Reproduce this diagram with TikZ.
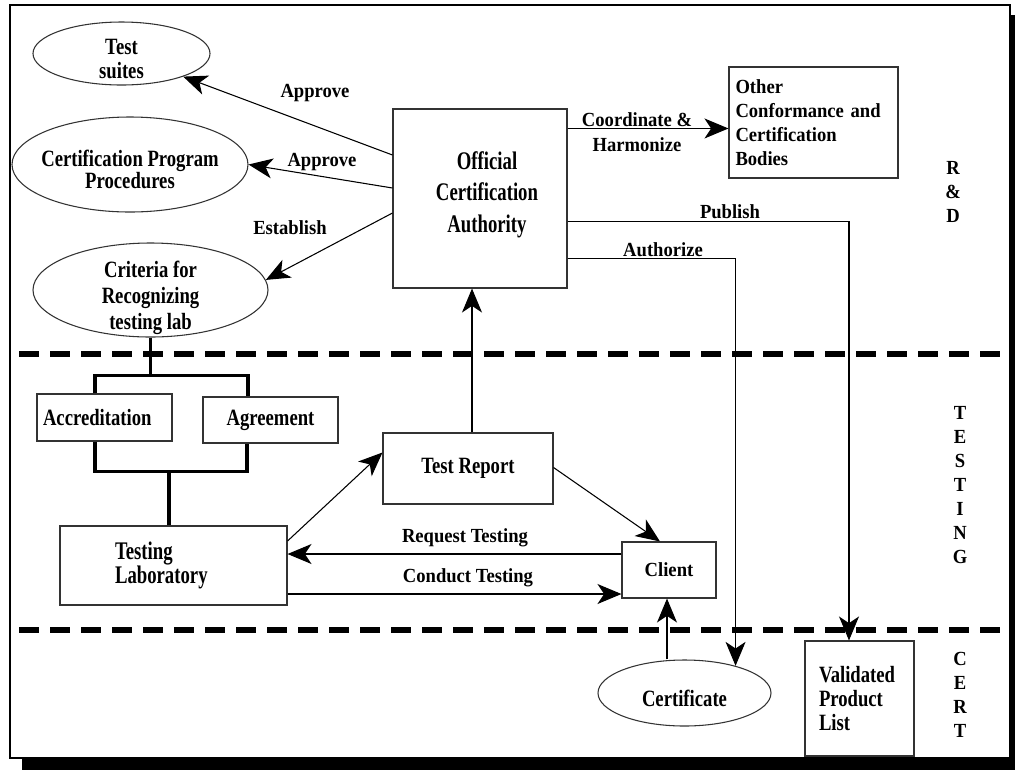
\documentclass[tikz,border=0pt]{standalone}
\usepackage{fontspec}
\setmainfont{Liberation Serif}
\newfontfamily\fA[FakeStretch=0.8]{Liberation Serif}
\newfontfamily\fB[FakeStretch=0.74]{Liberation Serif}
\newfontfamily\fL[FakeStretch=0.93]{Liberation Serif}
\usetikzlibrary{arrows.meta,shapes.geometric,calc}
\newcommand{\ztab}[1]{\makebox[0pt]{\smash{\raisebox{-0.6em}{\begin{tabular}{@{}c@{}}#1\end{tabular}}}}}
\newcommand{\ztabs}[3]{\makebox[0pt]{\hspace*{#1}\smash{\raisebox{#2}{\begin{tabular}{@{}c@{}}#3\end{tabular}}}}}
\begin{document}
\begin{tikzpicture}[x=0.75pt,y=-0.75pt,
  every node/.style={font=\fL\bfseries\fontsize{15}{18}\selectfont},
  fontA/.style={font=\fA\bfseries\fontsize{17.5}{18}\selectfont},
  fontB/.style={font=\fB\bfseries\fontsize{19}{17.25}\selectfont},
  box/.style={draw=black!80,line width=0.8pt,rectangle,inner sep=0pt},
  oval/.style={draw=black!80,line width=0.8pt,ellipse,inner sep=0pt,fontA},
  lbl/.style={inner sep=0pt,align=center},
  conn/.style={line width=0.8pt},
  arr/.style={conn,-{Stealth[length=18pt,width=15pt,inset=5pt]}},
  bar/.style={line width=2.4pt},
  divider/.style={line width=4.5pt,dash pattern=on 15pt off 8.25pt}]
\useasboundingbox (0,0) rectangle (1015,769);
% frame with shadow
\fill[black] (22,15) rectangle (1030,780);
\draw[line width=1.5pt,fill=white] (10,5) rectangle (1010,758);
% zone dividers
\draw[divider] (19,354) -- (1005,354);
\draw[divider] (19,630) -- (1005,630);

% boxes
\node[box,fontB,minimum width=130.5pt,minimum height=134.25pt] (oca) at (480,198.5) {\ztabs{10.5pt}{-1.9pt}{Official\\[5.25pt]Certification\\[5.25pt]Authority}};
\node[box,minimum height=83.25pt,text width=117pt,inner xsep=4.875pt,align=left] (oth) at (813.5,122.5) {Other\\Conformance and\\Certification\\Bodies};
\node[box,fontA,minimum width=127.5pt,minimum height=53.25pt] (tr) at (468,468.5) {Test Report};
\node[box,minimum width=70.5pt,minimum height=42pt] (cl) at (669,570) {Client};
\node[box,fontB,minimum height=59.25pt,text width=87.75pt,inner xsep=41.25pt,align=left] (lab) at (173.5,565.5) {Testing\\Laboratory};
\node[box,fontA,minimum height=35.25pt,text width=92.25pt,inner xsep=4.5pt,align=left] (acc) at (104.5,417.5) {Accreditation};
\node[box,fontA,minimum width=101.25pt,minimum height=34.5pt] (agr) at (270.5,420) {Agreement};
\node[box,fontA,minimum height=86.25pt,text width=60.75pt,inner xsep=10.5pt,align=left] (vpl) at (859.5,698.5) {Validated\\Product\\List};

% ellipses
\node[oval,minimum width=132.75pt,minimum height=47.25pt] (ts) at (121.5,53.5) {\ztab{Test\\suites}};
\node[oval,minimum width=177pt,minimum height=71.25pt] (cp) at (130,164.5) {\ztab{Certification Program\\[-1.5pt]Procedures}};
\node[oval,minimum width=176.25pt,minimum height=70.5pt] (cr) at (150.5,290) {\ztab{Criteria for\\[1.5pt]Recognizing\\[1.5pt]testing lab}};
\node[oval,minimum width=129.75pt,minimum height=49.5pt] (cert) at (684.5,693) {\ztab{Certificate}};

% labels
\node[lbl] (lAp1) at (315,93) {Approve};
\node[lbl] (lAp2) at (322,162) {Approve};
\node[lbl] (lEst) at (290,228) {Establish};
\node[lbl] (lCo) at (637,132) {Coordinate \&\\[0.75pt]Harmonize};
\node[lbl] (lPub) at (730,212) {Publish};
\node[lbl] (lAut) at (663,250) {Authorize};
\node[lbl] (lReq) at (465,538) {Request Testing};
\node[lbl] (lCon) at (468,578) {Conduct Testing};
\node[lbl] (zRD) at (953,192) {R\\\&\\D};
\node[lbl] (zT) at (960,485.5) {T\\E\\S\\T\\I\\N\\G};
\node[lbl] (zC) at (960,694.5) {C\\E\\R\\T};

% connectors
\draw[arr] ($(oca.west)+(0,-43.5)$) -- (ts);
\draw[arr] ($(oca.west)+(0,-10.5)$) -- (cp.east);
\draw[arr] ($(oca.west)+(0,14.5)$) -- (cr.5);
\draw[arr] ($(oca.north east)+(0,20)$) -- ($(oth.north west)+(0,62)$);
\draw[arr] ($(oca.north east)+(0,113)$) -| ($(vpl.north)+(-10.5,0)$);
\draw[arr] ($(oca.north east)+(0,150)$) -| (cert.28);
\coordinate (p1) at ($(tr.north)+(4,0)$);
\draw[arr] (p1) -- (p1 |- oca.south);
\draw[arr] ($(lab.east)+(0,-24.5)$) -- ($(tr.west)+(0,-16)$);
\draw[arr] ($(tr.east)+(0,-1)$) -- ($(cl.north)+(-9,0)$);
\coordinate (p2) at ($(cl.west)+(0,-16)$);
\draw[arr] (p2) -- (p2 -| lab.east);
\coordinate (p3) at ($(cl.west)+(0,24)$);
\draw[arr] (p3 -| lab.east) -- (p3);
\coordinate (p4) at ($(cl.south)+(-2,0)$);
\draw[arr] (p4 |- cert.north) -- (p4);

% bracket
\coordinate (j1) at ($(cr.south)+(0,38)$);
\draw[bar] ($(acc.north)+(-9.5,0)$) |- (j1) -| ($(agr.north)+(-22.5,0)$);
\draw[bar] (cr.south) -- (j1);
\draw[bar] ($(acc.south)+(-9.5,0)$) -- ++(0,30) -| ($(agr.south)+(-23.5,0)$);
\coordinate (j2) at ($(lab.north)+(-4.5,-55)$);
\draw[bar] (lab.north -| j2) -- (j2);
\end{tikzpicture}
\end{document}
